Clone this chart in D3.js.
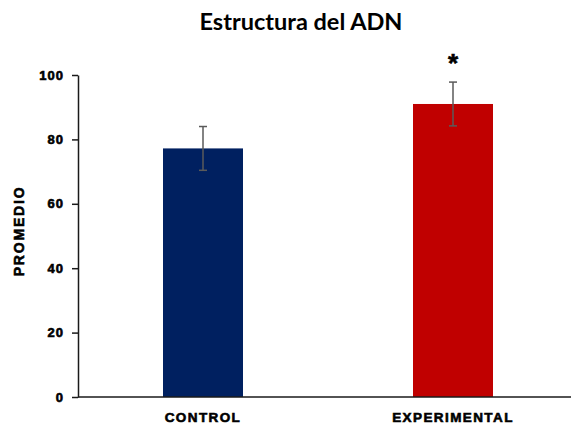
<!DOCTYPE html>
<html>
<head>
<meta charset="utf-8">
<script src="https://cdn.jsdelivr.net/npm/d3@7"></script>
<style>
  html, body { margin: 0; padding: 0; background: #fff; }
  svg { display: block; }
  .heavy { font-family: "Liberation Sans", Arial, sans-serif; font-weight: 900; fill: #000; stroke: #000; stroke-width: 0.6px; paint-order: stroke; }
</style>
</head>
<body>
<script>
// Group means and their error margins
const categories = ["CONTROL", "EXPERIMENTAL"];
const means = [77.2, 91.0];
const errors = [6.8, 6.8];
const barColors = ["#002060", "#C00000"];
const significance = ["", "*"];
const yTicks = [0, 20, 40, 60, 80, 100];

const W = 571, H = 424;
const margin = { left: 78, top: 75, bottom: 27 };

const svg = d3.select("body").append("svg")
  .attr("width", W).attr("height", H);

const y = d3.scaleLinear().domain([0, 100]).range([H - margin.bottom, margin.top]);
const x = d3.scaleBand().domain(categories).range([margin.left, margin.left + 500]).padding(0);
const barW = x.bandwidth() * 0.32;

// Title
svg.append("text")
  .attr("x", 301).attr("y", 30)
  .attr("text-anchor", "middle")
  .attr("font-family", "Lato, 'Open Sans', sans-serif")
  .attr("font-weight", "bold")
  .attr("font-size", 23.5)
  .attr("fill", "#000")
  .text("Estructura del ADN");

// Bars
svg.selectAll("rect.bar").data(categories).enter().append("rect")
  .attr("class", "bar")
  .attr("x", d => x(d) + x.bandwidth() / 2 - barW / 2)
  .attr("y", (d, i) => y(means[i]))
  .attr("width", barW)
  .attr("height", (d, i) => y(0) - y(means[i]))
  .attr("fill", (d, i) => barColors[i]);

// Error bars
const eb = svg.selectAll("g.err").data(categories).enter().append("g")
  .attr("class", "err")
  .attr("stroke", "#5a5a5a").attr("stroke-width", 1.5);
eb.append("line")
  .attr("x1", d => x(d) + x.bandwidth() / 2)
  .attr("x2", d => x(d) + x.bandwidth() / 2)
  .attr("y1", (d, i) => y(means[i] + errors[i]))
  .attr("y2", (d, i) => y(means[i] - errors[i]));
[1, -1].forEach(s => {
  eb.append("line")
    .attr("x1", d => x(d) + x.bandwidth() / 2 - 4)
    .attr("x2", d => x(d) + x.bandwidth() / 2 + 4)
    .attr("y1", (d, i) => y(means[i] + s * errors[i]))
    .attr("y2", (d, i) => y(means[i] + s * errors[i]));
});

// Significance marks
svg.selectAll("text.sig").data(categories).enter().append("text")
  .attr("class", "sig heavy")
  .attr("x", d => x(d) + x.bandwidth() / 2)
  .attr("y", (d, i) => y(means[i] + errors[i]) - 10)
  .attr("text-anchor", "middle")
  .attr("font-size", 26)
  .text((d, i) => significance[i]);

// Y axis
const yAxis = svg.append("g")
  .attr("transform", `translate(${margin.left},0)`)
  .call(d3.axisLeft(y).tickValues(yTicks).tickSize(6).tickSizeOuter(0));
yAxis.select(".domain").attr("stroke", "#1a1a1a").attr("stroke-width", 1.5);
yAxis.selectAll(".tick line").attr("stroke", "#1a1a1a").attr("stroke-width", 1.5);
yAxis.selectAll(".tick text")
  .attr("class", "heavy")
  .attr("x", -14)
  .attr("font-size", 13)
  .attr("letter-spacing", 1);

// X axis baseline
svg.append("line")
  .attr("x1", margin.left).attr("x2", W)
  .attr("y1", y(0)).attr("y2", y(0))
  .attr("stroke", "#1a1a1a").attr("stroke-width", 1.5);

// Category labels
svg.selectAll("text.cat").data(categories).enter().append("text")
  .attr("class", "cat heavy")
  .attr("x", d => x(d) + x.bandwidth() / 2)
  .attr("y", 422)
  .attr("text-anchor", "middle")
  .attr("font-size", 13.5)
  .attr("letter-spacing", 1.4)
  .text(d => d);

// Y axis title
svg.append("text")
  .attr("class", "heavy")
  .attr("transform", `translate(23.5, ${231}) rotate(-90)`)
  .attr("text-anchor", "middle")
  .attr("font-size", 14)
  .attr("letter-spacing", 1.8)
  .text("PROMEDIO");
</script>
</body>
</html>
